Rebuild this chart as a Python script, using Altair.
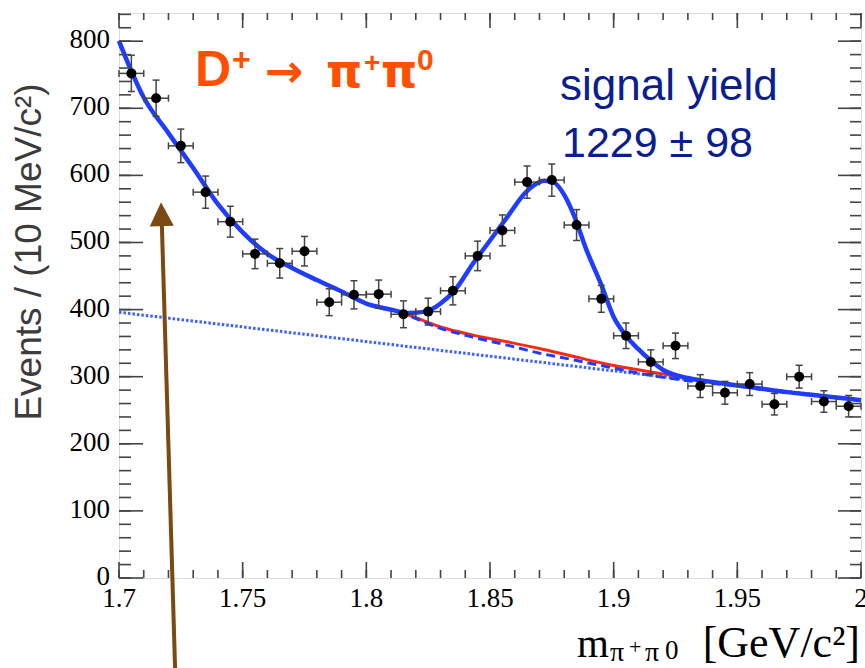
import altair as alt
import pandas as pd

# Measured spectrum: bin centres (GeV/c^2), entries per 10 MeV bin and their errors
mass = [1.705, 1.715, 1.725, 1.735, 1.745, 1.755, 1.765, 1.775, 1.785, 1.795,
        1.805, 1.815, 1.825, 1.835, 1.845, 1.855, 1.865, 1.875, 1.885, 1.895,
        1.905, 1.915, 1.925, 1.935, 1.945, 1.955, 1.965, 1.975, 1.985, 1.995]
events = [752, 715, 644, 575, 531, 483, 469, 487, 411, 422,
          423, 393, 397, 428, 480, 518, 590, 593, 526, 416,
          361, 322, 346, 286, 276, 289, 259, 300, 263, 256]
errors = [27, 27, 25, 24, 23, 22, 22, 22, 20, 21,
          21, 20, 20, 21, 22, 23, 24, 24, 23, 20,
          19, 18, 19, 17, 17, 17, 16, 17, 16, 16]
half_bin = 0.005

# Total fit curve
fit_m = [1.700, 1.710, 1.720, 1.730, 1.740, 1.750, 1.760, 1.770, 1.780, 1.790,
         1.800, 1.810, 1.817, 1.824, 1.830, 1.836, 1.843, 1.850, 1.857, 1.864,
         1.868, 1.872, 1.876, 1.880, 1.884, 1.889, 1.895, 1.900, 1.905, 1.910,
         1.915, 1.920, 1.930, 1.940, 1.950, 1.960, 1.970, 1.980, 1.990, 2.000]
fit_total = [800, 716, 663, 611, 557, 515, 483, 462, 444, 427,
             409, 400, 395, 397, 409, 430, 468, 503, 538, 573,
             586, 592, 589, 571, 540, 489, 437, 389, 361, 341,
             324, 310, 298, 292, 287, 282, 277, 273, 269, 265]

# Background components
bg_m = [1.700, 1.710, 1.720, 1.730, 1.740, 1.750, 1.760, 1.770, 1.780, 1.790,
        1.800, 1.810, 1.817, 1.830, 1.843, 1.857, 1.870, 1.884, 1.897, 1.915,
        1.930, 1.940, 1.950, 1.960, 1.970, 1.980, 1.990, 2.000]
bg_total = [800, 716, 663, 611, 557, 515, 483, 462, 444, 427,
            409, 400, 392, 374, 362, 352, 342, 330, 319, 307,
            298, 292, 287, 282, 277, 273, 269, 265]
bg_comb = [800, 716, 663, 611, 557, 515, 483, 462, 444, 427,
           409, 400, 391, 372, 359, 347, 335, 325, 315, 302,
           294, 290, 286, 281, 277, 273, 269, 265]
lin_m = [1.70, 2.00]
bg_linear = [396, 265]

# Axis ticks and their labels
x_major = [1.70, 1.75, 1.80, 1.85, 1.90, 1.95, 2.00]
x_labels = ["1.7", "1.75", "1.8", "1.85", "1.9", "1.95", "2"]
x_minor = [round(1.70 + 0.01 * i, 2) for i in range(31)]
y_major = [0, 100, 200, 300, 400, 500, 600, 700, 800]
y_labels = ["0", "100", "200", "300", "400", "500", "600", "700", "800"]
y_minor = [20 * i for i in range(43)]

W, H = 742, 565
OX, OY = 119, 13
BLUE = "#1f3cff"
TICK = "#444444"
ERR = "#444444"
SERIF = "Liberation Serif"

xscale = alt.Scale(domain=[1.7, 2.0], nice=False, zero=False)
yscale = alt.Scale(domain=[0, 842], nice=False, zero=False)


def X(field):
    return alt.X(field, type="quantitative", scale=xscale, axis=None)


def Y(field):
    return alt.Y(field, type="quantitative", scale=yscale, axis=None)


pts = pd.DataFrame({"m": mass, "n": events, "e": errors})
pts["lo"] = pts["n"] - pts["e"]
pts["hi"] = pts["n"] + pts["e"]
pts["mlo"] = pts["m"] - half_bin
pts["mhi"] = pts["m"] + half_bin


def curve(ms, vals, color, width, dash=None):
    kw = dict(color=color, strokeWidth=width, interpolate="monotone")
    if dash is not None:
        kw["strokeDash"] = dash
    return alt.Chart(pd.DataFrame({"m": ms, "n": vals})).mark_line(**kw).encode(
        x=X("m"), y=Y("n"))


def label(txt, x, y, size, color, font, weight="normal", align="left", angle=0,
          baseline="alphabetic"):
    return alt.Chart(pd.DataFrame({"t": [txt]})).mark_text(
        fontSize=size, color=color, font=font, fontWeight=weight, align=align,
        baseline=baseline, angle=angle,
    ).encode(x=alt.value(x - OX), y=alt.value(y - OY), text="t:N")


lin_layer = curve(lin_m, bg_linear, "#3f60ff", 3, [2.5, 2])
red_layer = curve(bg_m, bg_total, "#ff2a14", 3)
dash_layer = curve(bg_m, bg_comb, BLUE, 3, [9, 5])
fit_layer = curve(fit_m, fit_total, BLUE, 4.5)

base = alt.Chart(pts)
vbars = base.mark_rule(color=ERR, strokeWidth=1.5).encode(
    x=X("m"), y=Y("lo"), y2="hi:Q")
hbars = base.mark_rule(color=ERR, strokeWidth=1.5).encode(
    x=X("mlo"), x2="mhi:Q", y=Y("n"))
cap_kw = dict(color=ERR, thickness=1.5, size=7, opacity=1)
vcap_lo = base.mark_tick(orient="horizontal", **cap_kw).encode(x=X("m"), y=Y("lo"))
vcap_hi = base.mark_tick(orient="horizontal", **cap_kw).encode(x=X("m"), y=Y("hi"))
hcap_lo = base.mark_tick(orient="vertical", **cap_kw).encode(x=X("mlo"), y=Y("n"))
hcap_hi = base.mark_tick(orient="vertical", **cap_kw).encode(x=X("mhi"), y=Y("n"))

dots = base.mark_point(shape="circle", filled=True, color="black", size=100,
                       opacity=1).encode(x=X("m"), y=Y("n"))


# Inward-pointing ticks on all four sides of the frame
def yticks(vals, x0, x1):
    return alt.Chart(pd.DataFrame({"v": vals})).mark_rule(
        color=TICK, strokeWidth=1.6).encode(
        y=Y("v"), x=alt.value(x0), x2=alt.value(x1))


def xticks(vals, y0, y1):
    return alt.Chart(pd.DataFrame({"v": vals})).mark_rule(
        color=TICK, strokeWidth=1.6).encode(
        x=X("v"), y=alt.value(y0), y2=alt.value(y1))


ticks = [
    yticks(y_minor, 0, 12), yticks(y_major, 0, 24),
    yticks(y_minor, W, W - 11), yticks(y_major, W, W - 23),
    xticks(x_minor, H, H - 8), xticks(x_major, H, H - 16),
    xticks(x_minor, 0, 7), xticks(x_major, 0, 15),
]

# Tick labels placed through the same scales
xlab = alt.Chart(pd.DataFrame({"v": x_major, "t": x_labels})).mark_text(
    font=SERIF, fontSize=27, color="black", align="center",
    baseline="alphabetic").encode(x=X("v"), y=alt.value(607 - OY), text="t:N")
ylab = alt.Chart(pd.DataFrame({"v": y_major, "t": y_labels})).mark_text(
    font=SERIF, fontSize=27, color="black", align="right",
    baseline="alphabetic", dy=7).encode(y=Y("v"), x=alt.value(-9), text="t:N")

# Annotations
ORANGE = "#ff4f00"
NAVY = "#0a1e8f"
texts = [
    label("D", 195, 86, 50, ORANGE, "Liberation Sans", "bold"),
    label("+", 232, 70, 32, ORANGE, "Liberation Sans", "bold"),
    label("→", 265, 87, 46, ORANGE, "DejaVu Sans", "bold"),
    label("π", 326, 87, 46, ORANGE, "DejaVu Sans", "bold"),
    label("+", 364, 72, 28, ORANGE, "Liberation Sans", "bold"),
    label("π", 381, 87, 46, ORANGE, "DejaVu Sans", "bold"),
    label("0", 417, 70, 30, ORANGE, "Liberation Sans", "bold"),
    label("signal yield", 560, 100, 44, NAVY, "Liberation Sans"),
    label("1229 ± 98", 562, 157, 43, NAVY, "Liberation Sans"),
    label("Events / (10 MeV/c²)", 30, 252, 37, "#3c3c3c", "Liberation Sans",
          align="center", angle=270, baseline="middle"),
    label("m", 577, 657, 41, "black", SERIF),
    label("π", 610, 661, 28, "black", SERIF),
    label("+", 629, 654, 22, "black", SERIF),
    label("π", 645, 661, 28, "black", SERIF),
    label("0", 665, 659, 27, "black", SERIF),
    label("[GeV/c²]", 860, 657, 44, "black", SERIF, align="right"),
]

# Arrow pointing up into the plot
ARROW = "#7a4a12"
arrow_tail = (1.7228, -150)
arrow_tip = (1.7170, 560)
arrow_df = pd.DataFrame({"m": [arrow_tail[0]], "n": [arrow_tail[1]],
                         "m2": [1.7173], "n2": [530]})
shaft = alt.Chart(arrow_df).mark_rule(color=ARROW, strokeWidth=4).encode(
    x=X("m"), y=Y("n"), x2="m2:Q", y2="n2:Q")
head = alt.Chart(pd.DataFrame({"m": [arrow_tip[0]], "n": [arrow_tip[1]]})).mark_point(
    shape="M0,0L-1,2L1,2Z", size=576, angle=358.3, filled=True, color=ARROW,
    opacity=1, strokeWidth=0).encode(x=X("m"), y=Y("n"))

chart = alt.layer(
    lin_layer, red_layer, dash_layer, fit_layer,
    vbars, hbars, vcap_lo, vcap_hi, hcap_lo, hcap_hi, dots,
    *ticks, xlab, ylab, *texts, shaft, head,
).properties(
    width=W, height=H,
    padding={"left": OX, "top": OY, "right": 865 - OX - W, "bottom": 668 - OY - H},
    autosize=alt.AutoSizeParams(type="none"),
).configure_view(stroke=TICK, strokeWidth=2).configure(background="white")

chart.save("out.html", embed_options={"renderer": "svg", "actions": False})
